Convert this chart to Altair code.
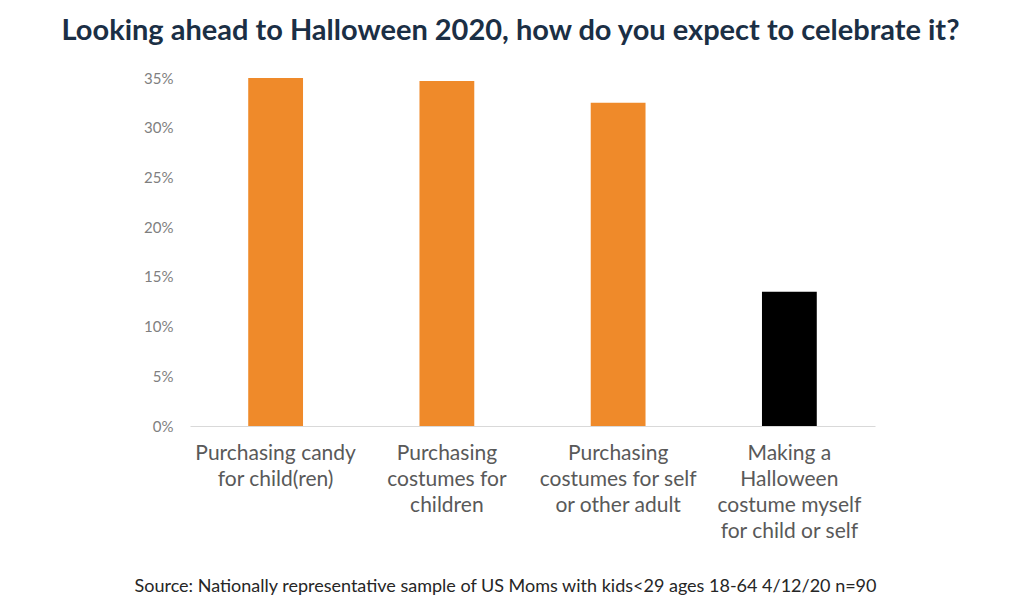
import altair as alt
import pandas as pd

categories = [
    "Purchasing candy\nfor child(ren)",
    "Purchasing\ncostumes for\nchildren",
    "Purchasing\ncostumes for self\nor other adult",
    "Making a\nHalloween\ncostume myself\nfor child or self",
]
shares = [0.350, 0.347, 0.325, 0.135]
bar_colors = ["#EF8A2A", "#EF8A2A", "#EF8A2A", "#000000"]
y_ticks = [0, 0.05, 0.10, 0.15, 0.20, 0.25, 0.30, 0.35]

title_text = "Looking ahead to Halloween 2020, how do you expect to celebrate it?"
source_text = "Source: Nationally representative sample of US Moms with kids<29 ages 18-64  4/12/20 n=90"

df = pd.DataFrame({"category": categories, "share": shares})

FONT = "Lato"

chart = (
    alt.Chart(df)
    .mark_bar()
    .encode(
        x=alt.X(
            "category:N",
            sort=categories,
            scale=alt.Scale(paddingInner=0.68, paddingOuter=0.34),
            axis=alt.Axis(
                title=source_text,
                titleFont=FONT,
                titleFontSize=18,
                titleFontWeight="normal",
                titleColor="#262626",
                titlePadding=36,
                titleX=315,
                titleAlign="center",
                labelExpr="split(datum.label, '\\n')",
                labelAngle=0,
                labelFont=FONT,
                labelFontSize=21,
                labelColor="#595959",
                labelLineHeight=26,
                labelPadding=16,
                labelLimit=300,
                ticks=False,
                domainColor="#d9d9d9",
                domainWidth=1.2,
                grid=False,
            ),
        ),
        y=alt.Y(
            "share:Q",
            scale=alt.Scale(domain=[0, 0.35], nice=False),
            axis=alt.Axis(
                title=None,
                values=y_ticks,
                format=".0%",
                labelFont=FONT,
                labelFontSize=15,
                labelColor="#7f7f7f",
                labelPadding=17,
                ticks=False,
                domain=False,
                grid=False,
            ),
        ),
        color=alt.Color(
            "category:N",
            scale=alt.Scale(domain=categories, range=bar_colors),
            legend=None,
        ),
    )
    .properties(
        width=685,
        height=348,
        background="white",
        autosize=alt.AutoSizeParams(type="none"),
        padding={"left": 182, "top": 70, "right": 140, "bottom": 180},
        title=alt.TitleParams(
            text=title_text,
            font=FONT,
            fontSize=29,
            fontWeight="bold",
            color="#1B2F45",
            anchor="middle",
            frame="group",
            dx=-22,
            offset=25,
        ),
    )
    .configure_view(stroke="transparent", strokeWidth=0)
)

chart.save("out.html", embed_options={"renderer": "svg", "actions": False})
